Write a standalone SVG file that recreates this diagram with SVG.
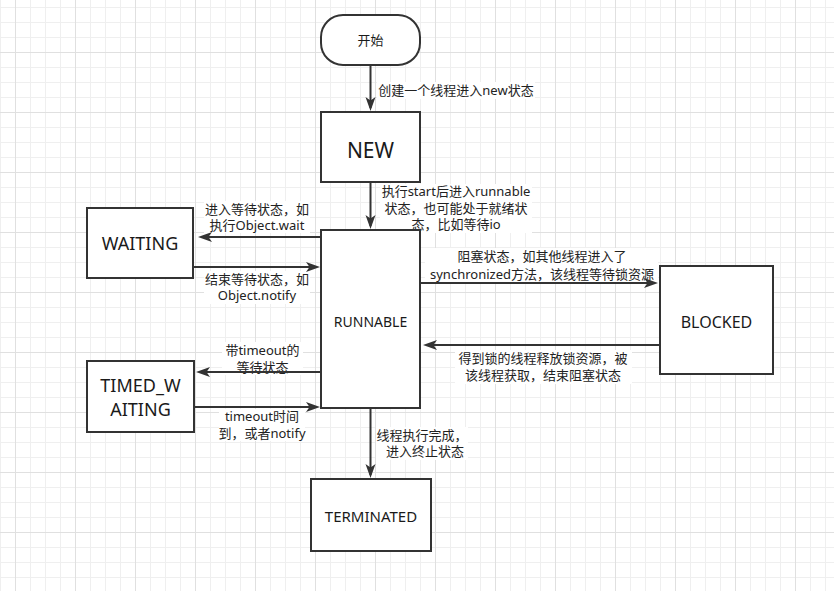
<svg xmlns="http://www.w3.org/2000/svg" width="834" height="591" viewBox="0 0 834 591">
<style>
.box{fill:#ffffff;stroke:#333333;stroke-width:2}
.edge{fill:none;stroke:#333333;stroke-width:2;marker-end:url(#arrow)}
.lbl{font-family:"Noto Sans","Noto Sans CJK SC",sans-serif;font-size:13px;fill:#222222;text-anchor:middle}
.lblbg{fill:#ffffff}
.nt{font-family:"Noto Sans","Noto Sans CJK SC",sans-serif;fill:#1a1a1a;text-anchor:middle}
</style>
<defs>
<pattern id="grid" x="15" y="52" width="60" height="60" patternUnits="userSpaceOnUse">
<rect width="60" height="60" fill="#ffffff"/>
<g fill="#efefef">
<rect x="15" y="0" width="1" height="60"/><rect x="30" y="0" width="1" height="60"/><rect x="45" y="0" width="1" height="60"/>
<rect x="0" y="15" width="60" height="1"/><rect x="0" y="30" width="60" height="1"/><rect x="0" y="45" width="60" height="1"/>
</g>
<g fill="#e0e0e0">
<rect x="0" y="0" width="1" height="60"/><rect x="0" y="0" width="60" height="1"/>
</g>
</pattern>
<marker id="arrow" markerUnits="userSpaceOnUse" markerWidth="14" markerHeight="10" refX="11" refY="5" orient="auto" overflow="visible">
<path d="M0,0 L14,5 L0,10 L3.5,5 Z" fill="#333333"/>
</marker>
</defs>
<rect width="834" height="591" fill="url(#grid)"/>

<g id="edge-labels">
<rect class="lblbg" x="377" y="82" width="158" height="17"/>
<text class="lbl" x="456" y="94.5">创建一个线程进入new状态</text>
<rect class="lblbg" x="380" y="184" width="152" height="49"/>
<text class="lbl" x="456" y="196">执行start后进入runnable</text>
<text class="lbl" x="456" y="212.5">状态，也可能处于就绪状</text>
<text class="lbl" x="456" y="229">态，比如等待io</text>
<rect class="lblbg" x="204" y="201" width="106" height="32"/>
<text class="lbl" x="257" y="213.5">进入等待状态，如</text>
<text class="lbl" x="257" y="230">执行Object.wait</text>
<rect class="lblbg" x="204" y="271" width="106" height="33"/>
<text class="lbl" x="257" y="283.5">结束等待状态，如</text>
<text class="lbl" x="257" y="300">Object.notify</text>
<rect class="lblbg" x="222" y="342" width="81" height="33"/>
<text class="lbl" x="262.5" y="355">带timeout的</text>
<text class="lbl" x="262.5" y="372">等待状态</text>
<rect class="lblbg" x="219" y="409" width="86" height="32"/>
<text class="lbl" x="262" y="421">timeout时间</text>
<text class="lbl" x="262" y="437.5">到，或者notify</text>
<rect class="lblbg" x="425" y="248" width="233" height="34"/>
<text class="lbl" x="542" y="261">阻塞状态，如其他线程进入了</text>
<text class="lbl" x="542" y="278.5">synchronized方法，该线程等待锁资源</text>
<rect class="lblbg" x="455" y="350" width="177" height="34"/>
<text class="lbl" x="543" y="363">得到锁的线程释放锁资源，被</text>
<text class="lbl" x="543" y="379.5">该线程获取，结束阻塞状态</text>
<rect class="lblbg" x="376" y="427" width="92" height="33"/>
<text class="lbl" x="422" y="439.5">线程执行完成，</text>
<text class="lbl" x="425" y="456">进入终止状态</text>
</g>

<g id="connectors">
<line class="edge" x1="370.5" y1="65" x2="370.5" y2="108"/>
<line class="edge" x1="370.5" y1="182" x2="370.5" y2="226"/>
<line class="edge" x1="321" y1="237" x2="201" y2="237"/>
<line class="edge" x1="193" y1="267" x2="317" y2="267"/>
<line class="edge" x1="321" y1="372" x2="199" y2="372"/>
<line class="edge" x1="194" y1="407" x2="317" y2="407"/>
<line class="edge" x1="421" y1="283" x2="655" y2="283"/>
<line class="edge" x1="660" y1="345" x2="426" y2="345"/>
<line class="edge" x1="370.5" y1="408" x2="370.5" y2="475"/>
</g>

<g id="node-start">
<rect class="box" x="321" y="15" width="99" height="50" rx="22" ry="22"/>
<text class="nt" x="370.5" y="45" font-size="13">开始</text>
</g>
<g id="node-new">
<rect class="box" x="321" y="112" width="99" height="70"/>
<text class="nt" x="370.5" y="157.5" font-size="21">NEW</text>
</g>
<g id="node-runnable">
<rect class="box" x="321" y="230" width="99" height="178"/>
<text class="nt" x="370.5" y="327" font-size="14">RUNNABLE</text>
</g>
<g id="node-waiting">
<rect class="box" x="87" y="208" width="106" height="70"/>
<text class="nt" x="140" y="249.5" font-size="18">WAITING</text>
</g>
<g id="node-timed-waiting">
<rect class="box" x="87" y="361" width="107" height="71"/>
<text class="nt" x="140.5" y="391.5" font-size="18">TIMED_W</text>
<text class="nt" x="140.5" y="415.5" font-size="18">AITING</text>
</g>
<g id="node-blocked">
<rect class="box" x="660" y="266" width="113" height="108"/>
<text class="nt" x="716.5" y="327.5" font-size="16">BLOCKED</text>
</g>
<g id="node-terminated">
<rect class="box" x="311" y="479" width="120" height="72"/>
<text class="nt" x="371" y="522" font-size="15">TERMINATED</text>
</g>
</svg>
